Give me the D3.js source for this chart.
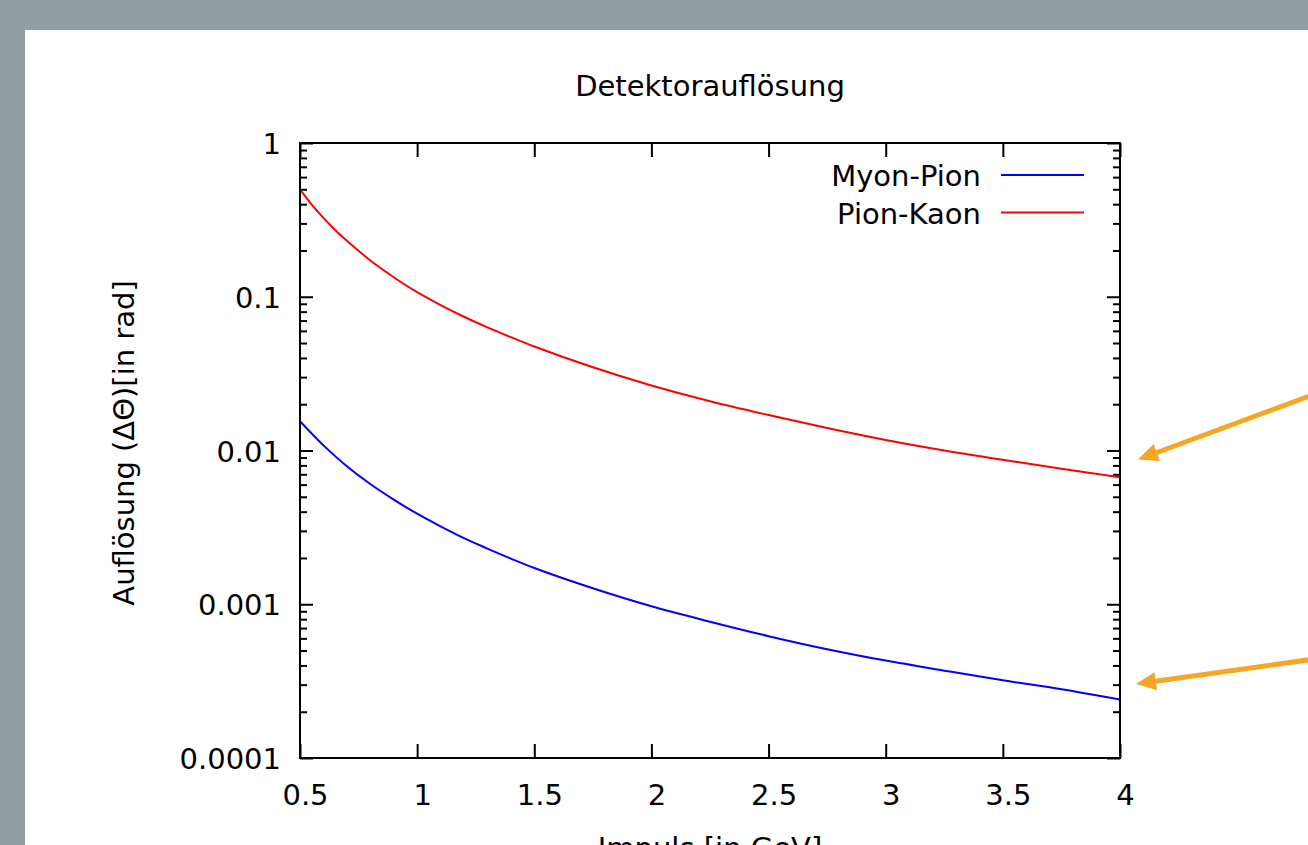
<!DOCTYPE html>
<html>
<head>
<meta charset="utf-8">
<script src="https://cdn.jsdelivr.net/npm/d3@7"></script>
<style>
  html, body { margin: 0; padding: 0; background: #929ea2; overflow: hidden; }
  svg { display: block; }
  text { font-family: "DejaVu Sans", sans-serif; fill: #000; }
</style>
</head>
<body>
<svg id="chart" width="1308" height="845"></svg>
<script>
// ---- data ----
const title = "Detektorauflösung";
const xLabel = "Impuls [in GeV]";
const yLabel = "Auflösung (ΔΘ)[in rad]";
const seriesNames = ["Myon-Pion", "Pion-Kaon"];
const seriesColors = ["#0000ff", "#ff0000"];

const myonPionX = [0.5, 0.6, 0.7, 0.8, 0.9, 1.0, 1.1, 1.2, 1.3, 1.4, 1.5, 1.75, 2.0, 2.25, 2.5, 2.75, 3.0, 3.25, 3.5, 3.75, 4.0];
const myonPionY = [0.0155, 0.0108, 0.0079, 0.00605, 0.00479, 0.00388, 0.00321, 0.00269, 0.00230, 0.00198, 0.00172, 0.00127, 0.00097, 0.00077, 0.00062, 0.00051, 0.00043, 0.00037, 0.00032, 0.00028, 0.00024];

const pionKaonX = [0.5, 0.55, 0.6, 0.65, 0.7, 0.75, 0.8, 0.9, 1.0, 1.1, 1.2, 1.3, 1.4, 1.5, 1.75, 2.0, 2.25, 2.5, 2.75, 3.0, 3.25, 3.5, 3.75, 4.0];
const pionKaonY = [0.50, 0.398, 0.326, 0.272, 0.231, 0.199, 0.172, 0.134, 0.107, 0.0883, 0.0741, 0.0632, 0.0546, 0.0475, 0.0348, 0.0265, 0.0209, 0.0170, 0.0140, 0.0117, 0.0100, 0.0087, 0.0076, 0.0067];

const xTicks = [0.5, 1, 1.5, 2, 2.5, 3, 3.5, 4];
const xTickLabels = ["0.5", "1", "1.5", "2", "2.5", "3", "3.5", "4"];
const yTicks = [0.0001, 0.001, 0.01, 0.1, 1];
const yTickLabels = ["0.0001", "0.001", "0.01", "0.1", "1"];

// ---- layout ----
const W = 1308, H = 845;
const plot = { left: 300, right: 1120, top: 143, bottom: 758 };
const FS = 29;

const svg = d3.select("#chart");

// white panel
svg.append("rect").attr("x", 25).attr("y", 30).attr("width", W - 25).attr("height", H - 30).attr("fill", "#ffffff");

const x = d3.scaleLinear().domain([0.5, 4]).range([plot.left, plot.right]);
const y = d3.scaleLog().domain([1e-4, 1]).range([plot.bottom, plot.top]);

// minor ticks for log axis
const yMinor = [];
for (let e = -4; e < 0; e++) for (let m = 2; m <= 9; m++) yMinor.push(m * Math.pow(10, e));

function styleAxis(g) {
  g.select(".domain").remove();
  g.selectAll(".tick line").attr("stroke", "#000").attr("stroke-width", 2);
  g.selectAll(".tick text").attr("font-size", FS).attr("font-family", "DejaVu Sans, sans-serif").attr("fill", "#000");
}

// bottom axis (labels + inward ticks)
svg.append("g").attr("transform", `translate(0,${plot.bottom})`)
  .call(d3.axisBottom(x).tickValues(xTicks).tickFormat((d, i) => xTickLabels[i]).tickSizeInner(-14).tickSizeOuter(0).tickPadding(0))
  .call(styleAxis)
  .call(g => g.selectAll(".tick text").attr("dy", null).attr("y", 47).attr("dx", 5));
// top axis mirror ticks
svg.append("g").attr("transform", `translate(0,${plot.top})`)
  .call(d3.axisTop(x).tickValues(xTicks).tickFormat("").tickSizeInner(-14).tickSizeOuter(0))
  .call(styleAxis);

// left axis
svg.append("g").attr("transform", `translate(${plot.left},0)`)
  .call(d3.axisLeft(y).tickValues(yTicks).tickFormat((d, i) => yTickLabels[i]).tickSizeInner(-13).tickSizeOuter(0).tickPadding(0))
  .call(styleAxis)
  .call(g => g.selectAll(".tick text").attr("x", -19).attr("dy", "0.37em"));
svg.append("g").attr("transform", `translate(${plot.left},0)`)
  .call(d3.axisLeft(y).tickValues(yMinor).tickFormat("").tickSizeInner(-7).tickSizeOuter(0))
  .call(styleAxis);
// right axis mirror
svg.append("g").attr("transform", `translate(${plot.right},0)`)
  .call(d3.axisRight(y).tickValues(yTicks).tickFormat("").tickSizeInner(-13).tickSizeOuter(0))
  .call(styleAxis);
svg.append("g").attr("transform", `translate(${plot.right},0)`)
  .call(d3.axisRight(y).tickValues(yMinor).tickFormat("").tickSizeInner(-7).tickSizeOuter(0))
  .call(styleAxis);

// curves
const series = [
  { xs: myonPionX, ys: myonPionY },
  { xs: pionKaonX, ys: pionKaonY }
];
const line = d3.line().x(d => x(d[0])).y(d => y(d[1])).curve(d3.curveCatmullRom.alpha(0.5));
const clipId = "plotclip";
svg.append("clipPath").attr("id", clipId).append("rect")
  .attr("x", plot.left).attr("y", plot.top).attr("width", plot.right - plot.left).attr("height", plot.bottom - plot.top);
series.forEach((s, i) => {
  svg.append("path")
    .datum(s.xs.map((v, j) => [v, s.ys[j]]))
    .attr("d", line)
    .attr("fill", "none")
    .attr("stroke", seriesColors[i])
    .attr("stroke-width", 2)
    .attr("clip-path", `url(#${clipId})`);
});

// frame
svg.append("rect").attr("x", plot.left).attr("y", plot.top)
  .attr("width", plot.right - plot.left).attr("height", plot.bottom - plot.top)
  .attr("fill", "none").attr("stroke", "#000").attr("stroke-width", 2);

// legend
const legendY = [175, 212.5];
seriesNames.forEach((name, i) => {
  svg.append("text").attr("x", 981).attr("y", legendY[i] + 11)
    .attr("text-anchor", "end").attr("font-size", FS).text(name);
  svg.append("line").attr("x1", 1001).attr("x2", 1084)
    .attr("y1", legendY[i]).attr("y2", legendY[i])
    .attr("stroke", seriesColors[i]).attr("stroke-width", 2);
});

// title & axis labels
svg.append("text").attr("x", 710).attr("y", 96).attr("text-anchor", "middle").attr("font-size", FS).text(title);
svg.append("text").attr("x", 710).attr("y", 858).attr("text-anchor", "middle").attr("font-size", FS).text(xLabel);
svg.append("text").attr("transform", "translate(134,443) rotate(-90)")
  .attr("text-anchor", "middle").attr("font-size", FS).text(yLabel);

// orange annotation arrows
const arrowColor = "#f5a623";
const arrows = [
  { tip: [1138, 459.5], from: [1330, 388.5] },
  { tip: [1136, 684], from: [1330, 656.8] }
];
arrows.forEach(a => {
  const dx = a.from[0] - a.tip[0], dy = a.from[1] - a.tip[1];
  const len = Math.hypot(dx, dy);
  const ux = dx / len, uy = dy / len;
  const headLen = 20, headW = 9;
  const bx = a.tip[0] + ux * headLen, by = a.tip[1] + uy * headLen;
  svg.append("line").attr("x1", bx - ux * 2).attr("y1", by - uy * 2)
    .attr("x2", a.from[0]).attr("y2", a.from[1])
    .attr("stroke", arrowColor).attr("stroke-width", 5);
  svg.append("path")
    .attr("d", `M${a.tip[0]},${a.tip[1]} L${bx - uy * headW},${by + ux * headW} L${bx + uy * headW},${by - ux * headW} Z`)
    .attr("fill", arrowColor);
});
</script>
</body>
</html>
